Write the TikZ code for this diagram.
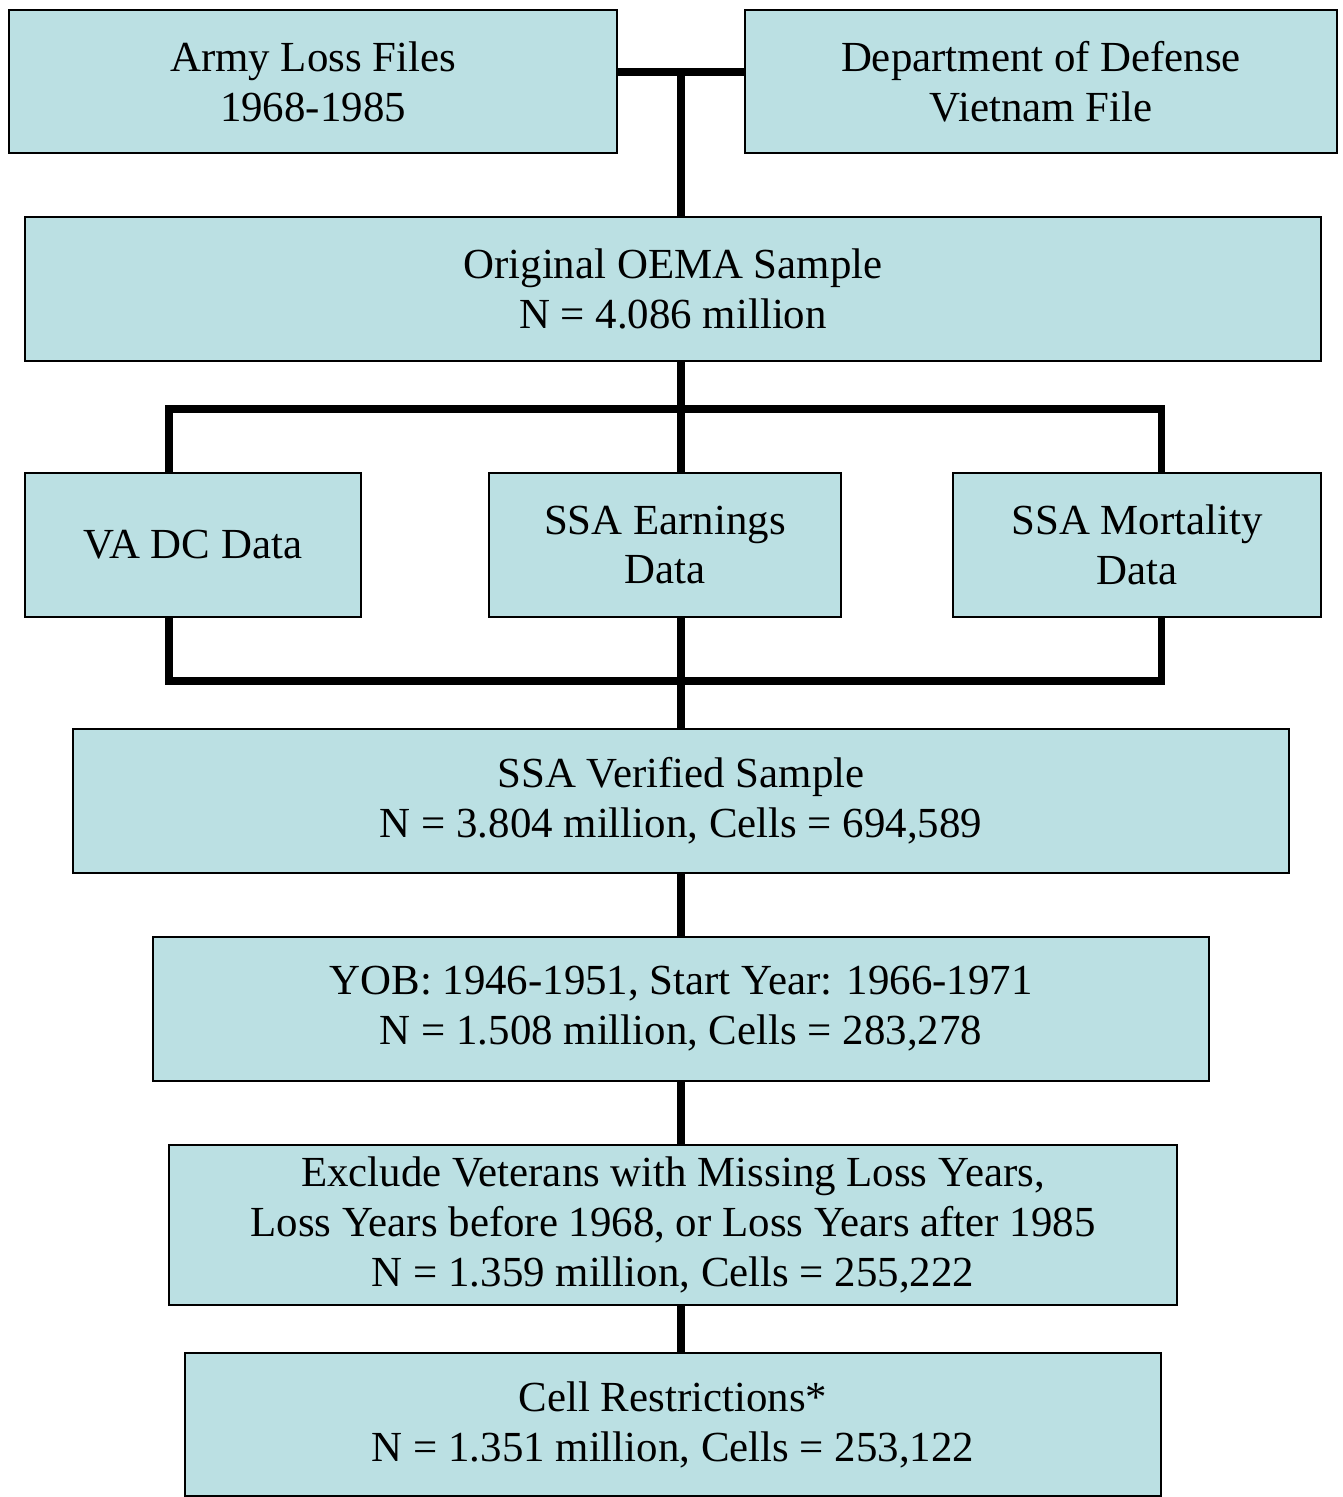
\documentclass[tikz,border=0pt]{standalone}
\usepackage{fontspec}
\setmainfont{Liberation Serif}
\definecolor{boxfill}{HTML}{BBE0E3}
\begin{document}
\begin{tikzpicture}[x=0.02cm,y=-0.02cm,
  box/.style={draw=black,line width=1.1pt,fill=boxfill,rectangle,inner sep=0pt,align=center,
    font=\fontsize{24.4}{28.4}\selectfont},
  conn/.style={line width=4pt,line join=miter}]
\useasboundingbox (0,0) rectangle (1342,1497);
\node[box,minimum width=12.16cm,minimum height=2.86cm] (army) at (313,81.5) {Army Loss Files\\1968-1985};
\node[box,minimum width=11.84cm,minimum height=2.86cm] (dod) at (1041,81.5) {Department of Defense\\Vietnam File};
\node[box,minimum width=25.92cm,minimum height=2.88cm] (oema) at (673,289) {Original OEMA Sample\\N = 4.086 million};
\node[box,minimum width=6.72cm,minimum height=2.88cm] (va) at (193,545) {VA DC Data};
\node[box,minimum width=7.04cm,minimum height=2.88cm] (earn) at (665,545) {SSA Earnings\\Data};
\node[box,minimum width=7.36cm,minimum height=2.88cm] (mort) at (1137,545) {SSA Mortality\\Data};
\node[box,minimum width=24.32cm,minimum height=2.88cm] (ver) at (681,801) {SSA Verified Sample\\N = 3.804 million, Cells = 694,589};
\node[box,minimum width=21.12cm,minimum height=2.88cm] (yob) at (681,1009) {YOB: 1946-1951, Start Year: 1966-1971\\N = 1.508 million, Cells = 283,278};
\node[box,minimum width=20.16cm,minimum height=3.2cm] (excl) at (673,1225) {Exclude Veterans with Missing Loss Years,\\Loss Years before 1968, or Loss Years after 1985\\N = 1.359 million, Cells = 255,222};
\node[box,minimum width=19.52cm,minimum height=2.86cm] (cell) at (673,1424.5) {Cell Restrictions*\\N = 1.351 million, Cells = 253,122};
\coordinate (j1) at (681,72);
\coordinate (j2) at (681,409);
\coordinate (j3) at (681,681);
\coordinate (l2) at (169,409);
\coordinate (r2) at (1161,409);
\coordinate (l3) at (169,681);
\coordinate (r3) at (1161,681);
\draw[conn] (army.east |- j1) -- (dod.west |- j1);
\draw[conn] (j1) -- (j1 |- oema.north);
\draw[conn] (j1 |- oema.south) -- (j2);
\draw[conn] (l2 |- va.north) -- (l2) -- (r2) -- (r2 |- mort.north);
\draw[conn] (j2) -- (j2 |- earn.north);
\draw[conn] (l3 |- va.south) -- (l3) -- (r3) -- (r3 |- mort.south);
\draw[conn] (j3 |- earn.south) -- (j3) -- (j3 |- ver.north);
\draw[conn] (j3 |- ver.south) -- (j3 |- yob.north);
\draw[conn] (j3 |- yob.south) -- (j3 |- excl.north);
\draw[conn] (j3 |- excl.south) -- (j3 |- cell.north);
\end{tikzpicture}
\end{document}
